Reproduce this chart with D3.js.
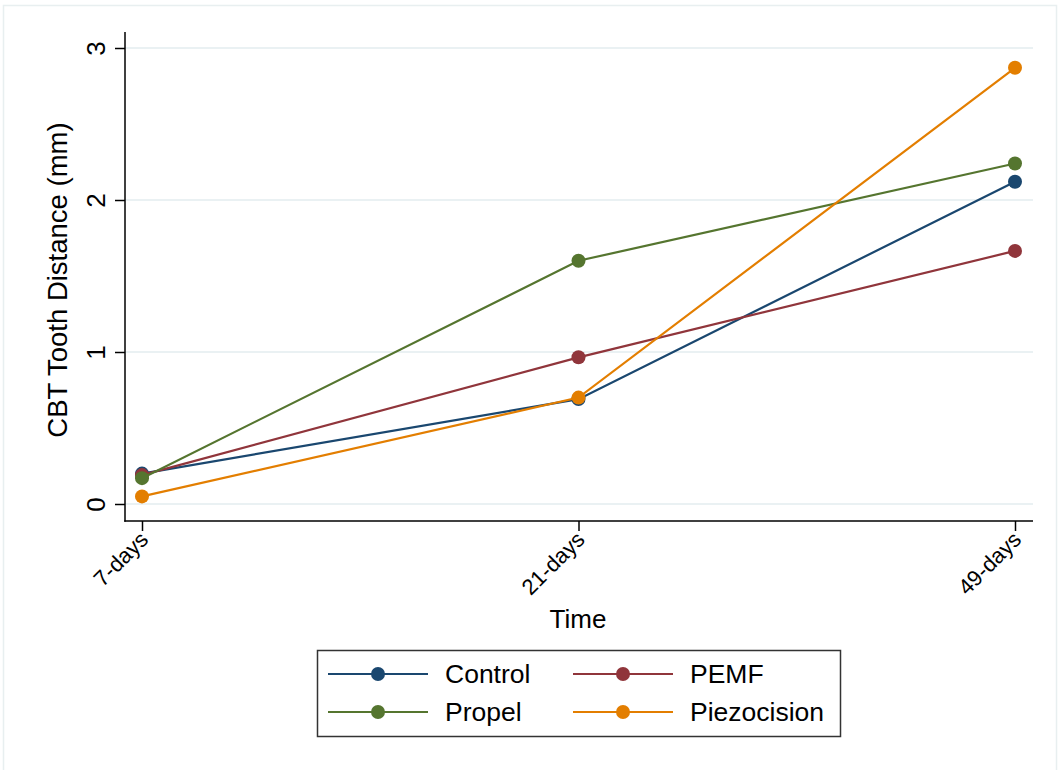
<!DOCTYPE html>
<html>
<head>
<meta charset="utf-8">
<script src="https://cdn.jsdelivr.net/npm/d3@7"></script>
<style>
  body { margin: 0; background: #fff; }
  text { font-family: "Liberation Sans", Arial, Helvetica, sans-serif; fill: #000; }
</style>
</head>
<body>
<div id="chart"></div>
<script>
const times = ['7-days', '21-days', '49-days'];
const yTicks = [0, 1, 2, 3];
const groups = ['Control', 'PEMF', 'Propel', 'Piezocision'];
const control = [0.20, 0.69, 2.12];
const pemf = [0.19, 0.965, 1.665];
const propel = [0.17, 1.60, 2.24];
const piezocision = [0.05, 0.70, 2.87];
const colors = ['#1a476f', '#90353b', '#55752f', '#e37e00'];

(function () {
  const width = 1061, height = 770;
  const margin = { top: 32, right: 28, bottom: 249, left: 125 };
  const plotRight = width - margin.right;   // 1033
  const plotBottom = height - margin.bottom; // 521

  const series = [control, pemf, propel, piezocision].map((values, i) => ({
    name: groups[i],
    color: colors[i],
    values: values.map((v, j) => ({ time: times[j], value: v }))
  }));

  const svg = d3.select('#chart')
    .append('svg')
    .attr('width', width)
    .attr('height', height);

  // outer graph region frame
  svg.append('rect')
    .attr('x', 3.5).attr('y', 5.5)
    .attr('width', 1053).attr('height', 780)
    .attr('fill', 'none')
    .attr('stroke', '#e8eff0')
    .attr('stroke-width', 1.5);

  const x = d3.scalePoint()
    .domain(times)
    .range([142, 1015]);

  const y = d3.scaleLinear()
    .domain([0, 3])
    .range([504, 48]);

  // gridlines
  svg.append('g')
    .selectAll('line')
    .data(yTicks)
    .enter()
    .append('line')
    .attr('x1', margin.left)
    .attr('x2', plotRight)
    .attr('y1', d => y(d))
    .attr('y2', d => y(d))
    .attr('stroke', '#eaf1f3')
    .attr('stroke-width', 2);

  // Y axis
  const yAxis = svg.append('g')
    .attr('transform', `translate(${margin.left}, 0)`)
    .call(d3.axisLeft(y).tickValues(yTicks).tickFormat(d3.format('d')).tickSize(10).tickSizeOuter(0));
  yAxis.select('.domain').remove();
  yAxis.selectAll('.tick line').attr('stroke', '#000').attr('stroke-width', 1.5);
  yAxis.selectAll('.tick text')
    .attr('x', 0).attr('dy', 0)
    .attr('transform', 'translate(-20, 0) rotate(-90)')
    .attr('text-anchor', 'middle')
    .style('font-size', '26px')
    .style('font-family', '"Liberation Sans", Arial, sans-serif');

  svg.append('line')
    .attr('x1', margin.left).attr('x2', margin.left)
    .attr('y1', margin.top).attr('y2', plotBottom + 0.75)
    .attr('stroke', '#000').attr('stroke-width', 1.5);

  // X axis
  const xAxis = svg.append('g')
    .attr('transform', `translate(0, ${plotBottom})`)
    .call(d3.axisBottom(x).tickSize(10).tickSizeOuter(0));
  xAxis.select('.domain').remove();
  xAxis.selectAll('.tick line').attr('stroke', '#000').attr('stroke-width', 1.5);
  xAxis.selectAll('.tick text')
    .attr('x', 0).attr('y', 0).attr('dy', 0)
    .attr('transform', 'translate(7, 20) rotate(-45)')
    .attr('text-anchor', 'end')
    .style('font-size', '22px')
    .style('font-family', '"Liberation Sans", Arial, sans-serif');

  svg.append('line')
    .attr('x1', margin.left - 0.75).attr('x2', plotRight)
    .attr('y1', plotBottom).attr('y2', plotBottom)
    .attr('stroke', '#000').attr('stroke-width', 1.5);

  // axis titles
  svg.append('text')
    .attr('transform', 'translate(67, 280) rotate(-90)')
    .attr('text-anchor', 'middle')
    .style('font-size', '27.5px')
    .text('CBT Tooth Distance (mm)');

  svg.append('text')
    .attr('x', 578).attr('y', 628)
    .attr('text-anchor', 'middle')
    .style('font-size', '26px')
    .text('Time');

  // lines and markers
  const line = d3.line()
    .x(d => x(d.time))
    .y(d => y(d.value));

  const serie = svg.selectAll('.serie')
    .data(series)
    .enter()
    .append('g')
    .attr('class', 'serie');

  serie.append('path')
    .attr('d', d => line(d.values))
    .attr('fill', 'none')
    .attr('stroke', d => d.color)
    .attr('stroke-width', 2.2);

  serie.selectAll('circle')
    .data(d => d.values.map(v => ({ ...v, color: d.color })))
    .enter()
    .append('circle')
    .attr('cx', d => x(d.time))
    .attr('cy', d => y(d.value))
    .attr('r', 7)
    .attr('fill', d => d.color);

  // legend
  const legend = svg.append('g');
  legend.append('rect')
    .attr('x', 317.5).attr('y', 650.5)
    .attr('width', 523).attr('height', 86)
    .attr('fill', '#fff')
    .attr('stroke', '#333')
    .attr('stroke-width', 1.5);

  const item = legend.selectAll('.item')
    .data(series)
    .enter()
    .append('g')
    .attr('class', 'item')
    .attr('transform', (d, i) => `translate(${328 + (i % 2) * 245}, ${674 + Math.floor(i / 2) * 38})`);

  item.append('line')
    .attr('x1', 0).attr('x2', 100)
    .attr('stroke', d => d.color)
    .attr('stroke-width', 2);

  item.append('circle')
    .attr('cx', 50)
    .attr('r', 7)
    .attr('fill', d => d.color);

  item.append('text')
    .attr('x', 117)
    .attr('dy', '0.35em')
    .style('font-size', '26.5px')
    .text(d => d.name);
})();
</script>
</body>
</html>
